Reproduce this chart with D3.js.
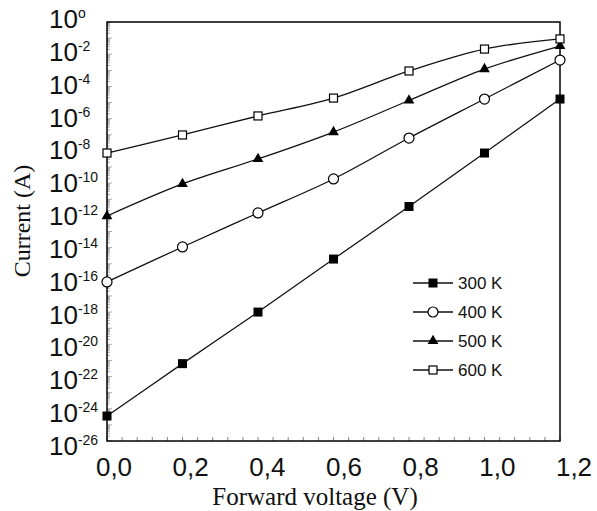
<!DOCTYPE html>
<html>
<head>
<meta charset="utf-8">
<script src="https://cdn.jsdelivr.net/npm/d3@7"></script>
<style>
  body { margin: 0; background: #fff; }
  svg { display: block; }
</style>
</head>
<body>
<div id="chart"></div>
<script>
// forward voltage (V)
var voltage = [0, 0.2, 0.4, 0.6, 0.8, 1.0, 1.2];

// log10 of current (A)
var logI300 = [-24.45, -21.2, -18.0, -14.71, -11.45, -8.13, -4.78];
var logI400 = [-16.13, -13.96, -11.85, -9.74, -7.2, -4.78, -2.36];
var logI500 = [-12.04, -10.05, -8.5, -6.83, -4.87, -2.92, -1.49];
var logI600 = [-8.13, -7.01, -5.83, -4.72, -3.04, -1.68, -1.05];

var seriesNames = ["300 K", "400 K", "500 K", "600 K"];
var xTicks = [0, 0.2, 0.4, 0.6, 0.8, 1.0, 1.2];
var yTickExp = [0, -2, -4, -6, -8, -10, -12, -14, -16, -18, -20, -22, -24, -26];

var W = 597, H = 511;
var plot = { left: 107, right: 560, top: 22, bottom: 441 };

var svg = d3.select("#chart").append("svg")
    .attr("width", W)
    .attr("height", H);

var x = d3.scaleLinear().domain([0, 1.2]).range([plot.left, plot.right]);
var y = d3.scaleLog().domain([1e-26, 1]).range([plot.bottom, plot.top]);
// tick labels are spread a bit wider than their ticks in the original
var xLab = d3.scaleLinear().domain([0, 1.2]).range([114, 574]);
var yLab = d3.scaleLinear().domain([0, -26]).range([28, 455]);

// minor ticks, left axis (each decade and its 2..9 subdivisions)
var yMinor = [];
for (var e = -26; e < 0; e++) {
    for (var k = 1; k < 10; k++) yMinor.push(k * Math.pow(10, e));
}
yMinor.push(1);
svg.append("g").selectAll("line")
    .data(yMinor)
    .enter().append("line")
    .attr("x1", plot.left).attr("x2", function (d) {
        var m = Math.log10(d);
        return Math.abs(m - Math.round(m)) < 1e-9 ? plot.left + 5 : plot.left + 3;
    })
    .attr("y1", function (d) { return y(d); })
    .attr("y2", function (d) { return y(d); })
    .attr("stroke", "#999")
    .attr("stroke-width", 0.8);

// minor ticks, bottom axis
svg.append("g").selectAll("line")
    .data(d3.range(0, 1.2001, 0.04))
    .enter().append("line")
    .attr("x1", function (d) { return x(d); })
    .attr("x2", function (d) { return x(d); })
    .attr("y1", plot.bottom).attr("y2", plot.bottom - 4)
    .attr("stroke", "#666")
    .attr("stroke-width", 0.8);

// frame
svg.append("rect")
    .attr("x", plot.left).attr("y", plot.top)
    .attr("width", plot.right - plot.left).attr("height", plot.bottom - plot.top)
    .attr("fill", "none")
    .attr("stroke", "#000")
    .attr("stroke-width", 1.5);

// y tick labels  10^n
var yl = svg.append("g").selectAll("text")
    .data(yTickExp)
    .enter().append("text")
    .attr("x", 49)
    .attr("y", function (d) { return yLab(d); })
    .attr("font-family", "Liberation Sans, Arial, sans-serif")
    .attr("font-size", 26)
    .attr("fill", "#111");
yl.append("tspan").text("10");
yl.append("tspan")
    .attr("dy", -10)
    .attr("font-size", 14)
    .text(function (d) { return d === 0 ? "o" : d; });

// x tick labels
svg.append("g").selectAll("text")
    .data(xTicks)
    .enter().append("text")
    .attr("x", function (d) { return xLab(d); })
    .attr("y", 476)
    .attr("text-anchor", "middle")
    .attr("font-family", "Liberation Sans, Arial, sans-serif")
    .attr("font-size", 26)
    .attr("fill", "#111")
    .text(function (d) { return d3.format(".1f")(d).replace(".", ","); });

// axis titles
svg.append("text")
    .attr("x", 315).attr("y", 505)
    .attr("text-anchor", "middle")
    .attr("font-family", "Liberation Serif, Times New Roman, serif")
    .attr("font-size", 25)
    .attr("fill", "#111")
    .text("Forward voltage (V)");

svg.append("text")
    .attr("transform", "translate(30,221) rotate(-90)")
    .attr("text-anchor", "middle")
    .attr("font-family", "Liberation Serif, Times New Roman, serif")
    .attr("font-size", 24)
    .attr("fill", "#111")
    .text("Current (A)");

var series = [logI300, logI400, logI500, logI600].map(function (vals, i) {
    return {
        name: seriesNames[i],
        points: vals.map(function (v, j) { return { v: voltage[j], c: Math.pow(10, v) }; })
    };
});

var line = d3.line()
    .x(function (d) { return x(d.v); })
    .y(function (d) { return y(d.c); })
    .curve(d3.curveCatmullRom.alpha(0.5));

svg.append("g").selectAll("path")
    .data(series)
    .enter().append("path")
    .attr("d", function (d) { return line(d.points); })
    .attr("fill", "none")
    .attr("stroke", "#111")
    .attr("stroke-width", 1.3);

function marker(g, i) {
    if (i === 0) {
        g.append("rect").attr("x", -4.5).attr("y", -4.5).attr("width", 9).attr("height", 9)
            .attr("fill", "#000");
    } else if (i === 1) {
        g.append("circle").attr("r", 5)
            .attr("fill", "#fff").attr("stroke", "#000").attr("stroke-width", 1.2);
    } else if (i === 2) {
        g.append("path").attr("d", d3.symbol().type(d3.symbolTriangle).size(50))
            .attr("fill", "#000");
    } else {
        g.append("rect").attr("x", -4).attr("y", -4).attr("width", 8).attr("height", 8)
            .attr("fill", "#fff").attr("stroke", "#000").attr("stroke-width", 1.2);
    }
}

series.forEach(function (s, i) {
    svg.append("g").selectAll("g")
        .data(s.points)
        .enter().append("g")
        .attr("transform", function (d) { return "translate(" + x(d.v) + "," + y(d.c) + ")"; })
        .each(function () { marker(d3.select(this), i); });
});

// legend
var legend = svg.append("g");
seriesNames.forEach(function (name, i) {
    var ly = 283 + i * 29;
    legend.append("line")
        .attr("x1", 413).attr("x2", 453)
        .attr("y1", ly).attr("y2", ly)
        .attr("stroke", "#111").attr("stroke-width", 1.3);
    var g = legend.append("g").attr("transform", "translate(433," + ly + ")");
    marker(g, i);
    legend.append("text")
        .attr("x", 458).attr("y", ly + 6)
        .attr("font-family", "Liberation Sans, Arial, sans-serif")
        .attr("font-size", 17)
        .attr("fill", "#111")
        .text(name);
});
</script>
</body>
</html>
